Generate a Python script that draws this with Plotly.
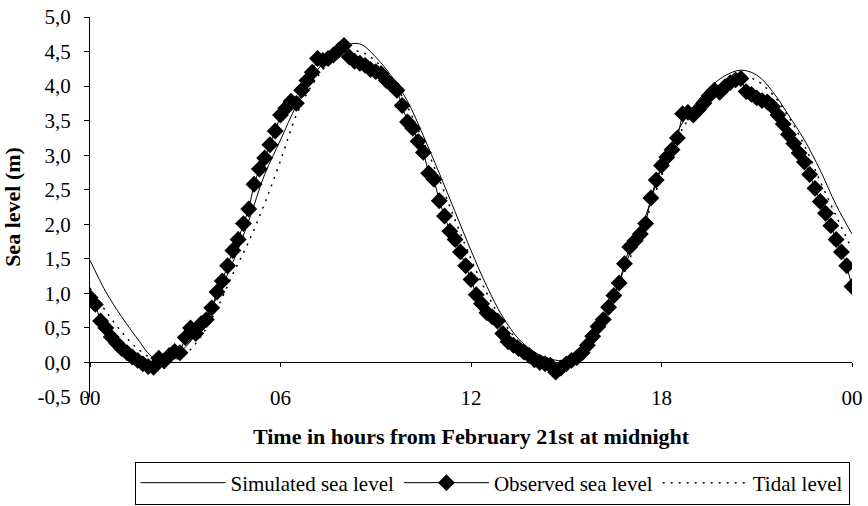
import plotly.graph_objects as go

# ---------------- data ----------------
# observed sea level, sampled every 10 minutes (hours 0 .. 24)
obs_minutes = list(range(0, 24 * 60 + 1, 10))
obs_hours = [m / 60 for m in obs_minutes]
obs_level = [
    0.94, 0.84, 0.60, 0.50, 0.37, 0.28, 0.20, 0.14, 0.08, 0.03,
    -0.02, -0.06, -0.07, 0.06, 0.02, 0.10, 0.16, 0.14, 0.36, 0.50,
    0.42, 0.56, 0.62, 0.79, 1.02, 1.18, 1.40, 1.62, 1.78, 2.01,
    2.22, 2.58, 2.80, 2.96, 3.15, 3.35, 3.58, 3.68, 3.78, 3.75,
    3.94, 4.08, 4.20, 4.40, 4.37, 4.40, 4.45, 4.52, 4.59, 4.42,
    4.36, 4.33, 4.30, 4.24, 4.21, 4.18, 4.08, 4.02, 3.94, 3.72,
    3.48, 3.39, 3.20, 3.04, 2.74, 2.65, 2.34, 2.12, 1.90, 1.78,
    1.60, 1.40, 1.20, 0.98, 0.85, 0.72, 0.66, 0.60, 0.42, 0.30,
    0.25, 0.20, 0.15, 0.10, 0.04, 0.00, -0.02, -0.04, -0.14, -0.08,
    -0.02, 0.03, 0.07, 0.14, 0.25, 0.38, 0.52, 0.62, 0.80, 0.97,
    1.15, 1.43, 1.67, 1.76, 1.86, 2.01, 2.38, 2.64, 2.85, 2.97,
    3.08, 3.25, 3.60, 3.62, 3.58, 3.66, 3.75, 3.86, 3.94, 3.91,
    3.99, 4.05, 4.09, 4.11, 3.92, 3.88, 3.83, 3.79, 3.77, 3.70,
    3.58, 3.45, 3.30, 3.17, 3.03, 2.90, 2.72, 2.52, 2.33, 2.16,
    1.98, 1.78, 1.60, 1.40, 1.10,
]

# simulated and tidal levels, every half hour
model_hours = [h / 2 for h in range(0, 49)]
sim_level = [
    1.48, 1.02, 0.66, 0.34, 0.07, 0.06, 0.22, 0.52, 0.95, 1.45,
    2.05, 2.72, 3.22, 3.72, 4.12, 4.42, 4.58, 4.61, 4.42, 4.14,
    3.78, 3.28, 2.74, 2.18, 1.62, 1.10, 0.66, 0.34, 0.15, 0.05,
    0.03, 0.16, 0.48, 0.95, 1.58, 2.12, 2.82, 3.34, 3.70, 3.97,
    4.15, 4.23, 4.16, 3.92, 3.58, 3.22, 2.78, 2.28, 1.86,
]
tide_level = [
    1.08, 0.74, 0.44, 0.20, 0.05, 0.02, 0.12, 0.38, 0.78, 1.28,
    1.75, 2.30, 2.92, 3.58, 4.02, 4.32, 4.48, 4.50, 4.36, 4.10,
    3.70, 3.20, 2.65, 2.06, 1.50, 1.00, 0.60, 0.30, 0.10, 0.01,
    0.00, 0.12, 0.44, 0.92, 1.50, 2.05, 2.70, 3.25, 3.62, 3.90,
    4.07, 4.15, 4.08, 3.88, 3.56, 3.14, 2.62, 2.12, 1.64,
]

x_tickvals = [0, 6, 12, 18, 24]
x_ticktext = ["00", "06", "12", "18", "00"]
y_tickvals = [-0.5, 0.0, 0.5, 1.0, 1.5, 2.0, 2.5, 3.0, 3.5, 4.0, 4.5, 5.0]
y_ticktext = ["-0,5", "0,0", "0,5", "1,0", "1,5", "2,0", "2,5",
              "3,0", "3,5", "4,0", "4,5", "5,0"]

# ---------------- figure ----------------
FONT = "Liberation Serif, Times New Roman, serif"

fig = go.Figure()
fig.add_trace(go.Scatter(
    x=model_hours, y=sim_level, name="Simulated sea level", mode="lines",
    line=dict(color="black", width=1, shape="spline"),
))
fig.add_trace(go.Scatter(
    x=obs_hours, y=obs_level, name="Observed sea level", mode="lines+markers",
    line=dict(color="black", width=1),
    marker=dict(symbol="diamond", size=13, color="black"),
))
fig.add_trace(go.Scatter(
    x=model_hours, y=tide_level, name="Tidal level", mode="lines",
    line=dict(color="black", width=1.5, dash="2px,6px", shape="spline"),
))

zero_pos = 0.5 / 5.5

fig.update_layout(
    width=868, height=506,
    margin=dict(l=90, r=16, t=17, b=109, autoexpand=False),
    paper_bgcolor="white", plot_bgcolor="white",
    separators=", ",
    font=dict(family=FONT, size=21, color="black"),
    showlegend=True,
    legend=dict(
        orientation="h", xref="container", yref="container",
        x=492 / 868, xanchor="center", y=1.5 / 506, yanchor="bottom",
        bordercolor="black", borderwidth=1, bgcolor="white",
        font=dict(family=FONT, size=21, color="black"),
        itemwidth=85,
        tracegroupgap=0,
    ),
    xaxis=dict(
        range=[0, 24], anchor="free", position=zero_pos,
        tickvals=x_tickvals, ticktext=x_ticktext,
        ticks="outside", ticklen=4, tickcolor="black", tickwidth=1,
        showline=True, linecolor="black", linewidth=1,
        showgrid=False, zeroline=False, automargin=False,
        ticklabelstandoff=12,
        tickfont=dict(family=FONT, size=21),
        title=dict(text="<b>Time in hours from February 21st at midnight</b>",
                   font=dict(family=FONT, size=22), standoff=19),
    ),
    xaxis2=dict(
        range=[0, 24], overlaying="x", anchor="free", position=zero_pos,
        tickvals=x_tickvals, ticks="inside", ticklen=4, tickcolor="black",
        showticklabels=False, showline=False, showgrid=False, zeroline=False,
    ),
    yaxis=dict(
        range=[-0.5, 5.0], tickvals=y_tickvals, ticktext=y_ticktext,
        ticks="outside", ticklen=5, tickcolor="black", tickwidth=1,
        showline=True, linecolor="black", linewidth=1,
        showgrid=False, zeroline=False, automargin=False,
        ticklabelstandoff=9,
        tickfont=dict(family=FONT, size=21),
        title=dict(text="<b>Sea level (m)</b>",
                   font=dict(family=FONT, size=22), standoff=14),
    ),
    yaxis2=dict(
        range=[-0.5, 5.0], overlaying="y", anchor="x", side="left",
        tickvals=y_tickvals, ticks="inside", ticklen=6, tickcolor="black",
        showticklabels=False, showline=False, showgrid=False, zeroline=False,
    ),
)

fig.write_html("out.html", config={"displayModeBar": False},
               post_script="document.body.style.margin='0px';")
